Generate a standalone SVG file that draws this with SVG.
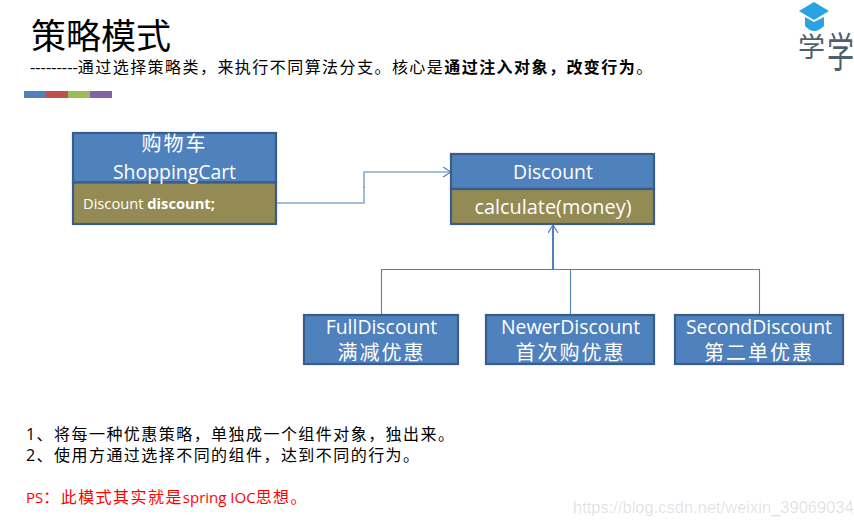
<svg xmlns="http://www.w3.org/2000/svg" width="854" height="525" viewBox="0 0 854 525">
<style>
text{font-family:"Open Sans","Noto Sans CJK SC",sans-serif}
.cjk{font-family:"Noto Sans CJK SC",sans-serif}
.body{font-size:15px;fill:#000}
.z{font-size:16px;letter-spacing:1.45px}
.w{fill:#fff;text-anchor:middle;font-size:19.4px}
.wz{font-size:20px;letter-spacing:2px}
.box{fill:#4f81bd;stroke:#385d8a;stroke-width:2.2}
.ol{fill:#948a54;stroke:#385d8a;stroke-width:2.2}
.c{fill:none;stroke:#4f81bd;stroke-width:1.1}
</style>
<defs><marker id="a" markerWidth="10" markerHeight="12" refX="9" refY="5" orient="auto" markerUnits="userSpaceOnUse"><path d="M1 0L9 5L1 10" fill="none" stroke="#4f81bd" stroke-width="1.2"/></marker></defs>
<rect width="854" height="525" fill="#fff"/>
<g id="header">
<text x="31" y="49" class="cjk" font-size="35" fill="#000">策略模式</text>
<text x="30" y="73" class="body"><tspan font-size="16.500">---------</tspan><tspan class="z">通过选择策略类，来执行不同算法分支。核心是<tspan font-weight="700">通过注入对象，改变行为</tspan>。</tspan></text>
<rect x="24" y="91" width="22" height="7" fill="#4f81bd"/><rect x="46" y="91" width="22" height="7" fill="#c0504d"/><rect x="68" y="91" width="22" height="7" fill="#9bbb59"/><rect x="90" y="91" width="22" height="7" fill="#8064a2"/>
</g>
<g id="logo">
<text x="798" y="57" class="cjk" font-size="27" fill="#4f5f6b">学</text>
<text transform="translate(827 67) scale(1 1.5)" class="cjk" font-size="27" fill="#4f5f6b">学</text>
<path d="M814 2L829 11L814 20L799 11Z" fill="#29a3e2"/>
<path d="M805 17L814 22L824 17V26Q814 36 805 26Z" fill="#29a3e2"/>
</g>
<g id="connectors">
<path d="M277 203H364V187" fill="none" stroke="#a3bcdc" stroke-width="2"/>
<path class="c" d="M364 188V172H451" marker-end="url(#a)"/>
<path class="c" style="stroke-width:2" d="M553 269V225" marker-end="url(#a)"/>
<path class="c" d="M381.500 315V269.500H759.500V315"/>
<path class="c" d="M570.500 269.500V315"/>
</g>
<g id="shopping-cart">
<rect class="box" x="73" y="133" width="203" height="49.500"/>
<rect class="ol" x="73" y="182.500" width="203" height="41.500"/>
<text class="w" x="174.500" y="151"><tspan class="wz">购物车</tspan></text>
<text class="w" x="174.500" y="179">ShoppingCart</text>
<text x="83" y="209" font-size="14.700" fill="#fff">Discount <tspan font-weight="700">discount;</tspan></text>
</g>
<g id="discount">
<rect class="box" x="451" y="154" width="203" height="35"/>
<rect class="ol" x="451" y="189" width="203" height="35"/>
<text class="w" x="553" y="179">Discount</text>
<text class="w" x="553" y="214" style="font-size:19.900px">calculate(money)</text>
</g>
<g id="full-discount">
<rect class="box" x="304" y="315" width="154" height="49"/>
<text class="w" x="381.500" y="334">FullDiscount</text>
<text class="w" x="381.500" y="360"><tspan class="wz">满减优惠</tspan></text>
</g>
<g id="newer-discount">
<rect class="box" x="486" y="315" width="168" height="49"/>
<text class="w" x="570.500" y="334">NewerDiscount</text>
<text class="w" x="570.500" y="360"><tspan class="wz">首次购优惠</tspan></text>
</g>
<g id="second-discount">
<rect class="box" x="675" y="315" width="168" height="49"/>
<text class="w" x="759" y="334">SecondDiscount</text>
<text class="w" x="759" y="360"><tspan class="wz">第二单优惠</tspan></text>
</g>
<g id="notes">
<text x="26" y="440" class="body z">1、将每一种优惠策略，单独成一个组件对象，独出来。</text>
<text x="26" y="461" class="body z">2、使用方通过选择不同的组件，达到不同的行为。</text>
<text x="26" y="503" class="body" style="fill:#f00">PS<tspan class="z">：此模式其实就是</tspan>spring IOC<tspan class="z">思想。</tspan></text>
</g>
<text id="watermark" x="573" y="513" style="font-family:'Liberation Sans',sans-serif" font-size="16.500" fill="#000" fill-opacity="0.13">https://blog.csdn.net/weixin_39069034</text>
</svg>
